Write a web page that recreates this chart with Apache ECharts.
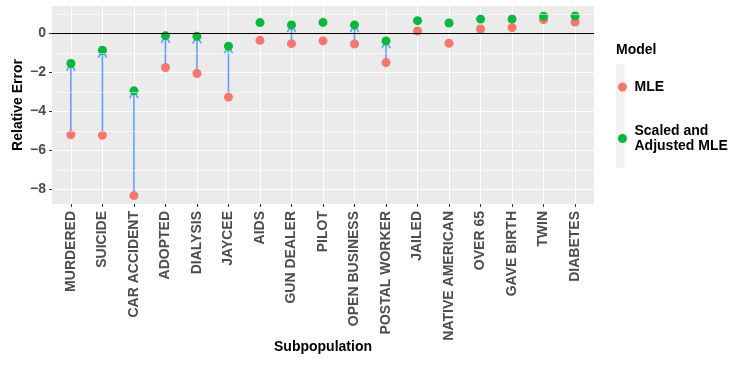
<!DOCTYPE html>
<html>
<head>
<meta charset="utf-8">
<script src="https://cdn.jsdelivr.net/npm/echarts@6/dist/echarts.min.js"></script>
<style>
html,body{margin:0;padding:0;background:#fff;}
#chart{width:730px;height:366px;}
</style>
</head>
<body>
<div id="chart"></div>
<script>
const categories = ['MURDERED','SUICIDE','CAR ACCIDENT','ADOPTED','DIALYSIS','JAYCEE','AIDS','GUN DEALER','PILOT','OPEN BUSINESS','POSTAL WORKER','JAILED','NATIVE AMERICAN','OVER 65','GAVE BIRTH','TWIN','DIABETES'];
const mleValues = [-5.2,-5.23,-8.32,-1.75,-2.06,-3.27,-0.36,-0.53,-0.39,-0.55,-1.5,0.12,-0.51,0.22,0.29,0.7,0.58];
const scaledValues = [-1.55,-0.87,-2.95,-0.12,-0.15,-0.66,0.55,0.43,0.56,0.43,-0.39,0.65,0.53,0.73,0.73,0.87,0.89];
const hasArrow = [true,true,true,true,true,true,false,true,false,true,true,false,false,false,false,false,false];
const yTicks = [-8,-6,-4,-2,0];
const yMinorTicks = [1,-1,-3,-5,-7];
const seriesNames = ['MLE','Scaled and Adjusted MLE'];

const xIdx = categories.map((c,i)=>i);
const font = 'Liberation Sans, Arial, Helvetica, sans-serif';
const chart = echarts.init(document.getElementById('chart'), null, {renderer:'canvas'});

const arrowData = [];
hasArrow.forEach((f,i)=>{ if(f) arrowData.push([i, mleValues[i], scaledValues[i]]); });

chart.setOption({
  animation:false,
  backgroundColor:'#ffffff',
  grid:{left:52,right:136,top:6,bottom:162,show:true,backgroundColor:'#EBEBEB',borderWidth:0},
  xAxis:{
    type:'value',min:-0.6,max:16.6,position:'bottom',
    name:'Subpopulation',nameLocation:'middle',nameGap:136,nameMoveOverlap:false,
    nameTextStyle:{fontFamily:font,fontSize:14,fontWeight:'bold',color:'#000'},
    axisLine:{show:false,onZero:false},
    axisTick:{show:true,length:3,customValues:xIdx,lineStyle:{color:'#333333',width:1}},
    axisLabel:{customValues:xIdx,rotate:90,margin:7,fontFamily:font,fontSize:14,fontWeight:'bold',color:'#4D4D4D',
      formatter:(v)=>categories[Math.round(v)]},
    splitLine:{show:true,lineStyle:{color:'#ffffff',width:1.1}}
  },
  yAxis:{
    type:'value',min:-8.75,max:1.4,position:'left',
    name:'Relative Error',nameLocation:'middle',nameGap:27,nameMoveOverlap:false,
    nameTextStyle:{fontFamily:font,fontSize:14,fontWeight:'bold',color:'#000'},
    axisLine:{show:false,onZero:false},
    axisTick:{show:true,length:3,customValues:yTicks,lineStyle:{color:'#333333',width:1}},
    axisLabel:{customValues:yTicks,margin:6,fontFamily:font,fontSize:14,fontWeight:'bold',color:'#4D4D4D',
      formatter:(v)=>String(v).replace('-','\u2212')},
    splitLine:{show:true,lineStyle:{color:'#ffffff',width:1.1}}
  },
  legend:{
    orient:'vertical',left:613,top:74.5,itemGap:29,
    itemWidth:14,itemHeight:9,icon:'circle',
    data:seriesNames,
    formatter:(n)=>n==='Scaled and Adjusted MLE'?'Scaled and\nAdjusted MLE':n,
    textStyle:{fontFamily:font,fontSize:14,fontWeight:'bold',color:'#000',lineHeight:15}
  },
  graphic:[
    {type:'rect',left:616,top:64,shape:{width:8.5,height:104},style:{fill:'#F2F2F2'},z:-1},
    {type:'text',left:616,top:43,style:{text:'Model',font:'bold 14px '+font,fill:'#000'}}
  ],
  series:[
    {
      type:'scatter',silent:true,data:[],z:1,
      markLine:{silent:true,symbol:'none',label:{show:false},animation:false,
        data:yMinorTicks.map(v=>({yAxis:v,lineStyle:{color:'#ffffff',width:0.55,type:'solid'}}))
          .concat([{yAxis:0,lineStyle:{color:'#000000',width:1,type:'solid'}}])}
    },
    {
      type:'custom',z:2,silent:true,
      data:arrowData,
      renderItem:(params,api)=>{
        const p1 = api.coord([api.value(0),api.value(1)]);
        const p2 = api.coord([api.value(0),api.value(2)]);
        const dir = p2[1] < p1[1] ? 1 : -1;
        const st = {stroke:'#619CFF',lineWidth:1.6,fill:null};
        return {type:'group',children:[
          {type:'line',shape:{x1:p1[0],y1:p1[1],x2:p2[0],y2:p2[1]},style:st},
          {type:'polyline',shape:{points:[[p2[0]-4.2,p2[1]+dir*7.2],[p2[0],p2[1]],[p2[0]+4.2,p2[1]+dir*7.2]]},style:st}
        ]};
      }
    },
    {
      name:'MLE',type:'scatter',z:3,symbolSize:9,
      itemStyle:{color:'#F8766D',opacity:1},
      data:mleValues.map((v,i)=>[i,v])
    },
    {
      name:'Scaled and Adjusted MLE',type:'scatter',z:4,symbolSize:9,
      itemStyle:{color:'#00BA38',opacity:1},
      data:scaledValues.map((v,i)=>[i,v])
    }
  ]
});
</script>
</body>
</html>
